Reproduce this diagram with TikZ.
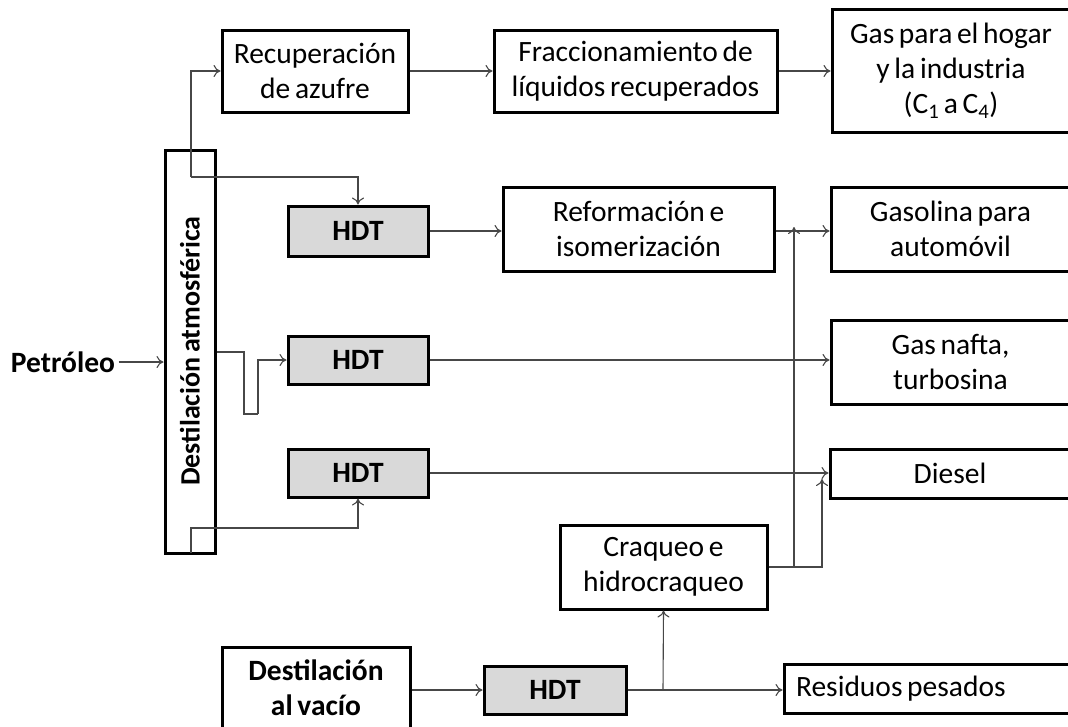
\documentclass[tikz,border=0pt]{standalone}
\usepackage{fontspec}
\setmainfont[WordSpace=0.7]{Carlito}
\usetikzlibrary{arrows.meta}
\begin{document}
\begin{tikzpicture}[x=1pt,y=-1pt,
  every node/.style={font=\fontsize{29.5}{35}\selectfont},
  box/.style={draw=black,line width=3pt,fill=white,align=center,inner sep=0pt},
  hdt/.style={box,fill=black!15,font=\fontsize{29.5}{35}\selectfont\bfseries,minimum width=140pt,minimum height=49pt},
  arr/.style={draw=black!72,line width=1.1pt,-{To[length=7pt,width=12pt]}},
  ln/.style={draw=black!72,line width=1.1pt}]
\useasboundingbox (0,0) rectangle (1068,726);
\begin{scope}
\clip (0,0) rectangle (1068,726);
% nodes
\node[box,minimum width=186pt,minimum height=82pt] (rec) at (315,71) {Recuperación\\de azufre};
\node[box,minimum width=283pt,minimum height=82pt] (frac) at (635.5,71) {Fraccionamiento de\\líquidos recuperados};
\node[box,minimum width=238pt,minimum height=123pt] (gas) at (951,70.5) {Gas para el hogar\\y la industria\\(C\textsubscript{1} a C\textsubscript{4})};
\node[box,minimum width=50pt,minimum height=403pt] (atm) at (190,351.5) {};
\node[rotate=90,font=\fontsize{28}{34}\selectfont\bfseries] (atmlbl) at (190,351) {Destilación atmosférica};
\node[hdt,minimum height=50pt] (hdt1) at (358,231) {HDT};
\node[box,minimum width=271pt,minimum height=84pt] (ref) at (638.5,229) {Reformación e\\isomerización};
\node[box,minimum width=239pt,minimum height=84pt] (gaso) at (950.5,229) {Gasolina para\\automóvil};
\node[hdt,minimum height=48pt] (hdt2) at (358,360) {HDT};
\node[box,minimum width=239pt,minimum height=84pt] (nafta) at (950.5,362) {Gas nafta,\\turbosina};
\node[hdt,minimum height=48pt] (hdt3) at (358,473) {HDT};
\node[box,minimum width=240pt,minimum height=49pt] (diesel) at (950,473.5) {Diesel};
\node[box,minimum width=207pt,minimum height=84pt] (craq) at (663.5,567) {Craqueo e\\hidrocraqueo};
\node[box,minimum width=188pt,minimum height=82pt,font=\fontsize{29.5}{35}\selectfont\bfseries] (vac) at (316,688) {Destilación\\al vacío};
\node[hdt,minimum width=142pt,minimum height=48pt] (hdt4) at (555,690) {HDT};
\node[box,minimum height=49pt,text width=274pt,inner xsep=12pt,align=left] (res) at (933,688.5) {\spaceskip=0pt Residuos pesados};
\node[font=\fontsize{29.5}{35}\selectfont\bfseries] (pet) at (63,362) {Petróleo};
% junction coordinates
\coordinate (j1) at (191,177);
\coordinate (j3) at (191,553);
\coordinate (k2a) at (244,352);
\coordinate (k2b) at (244,414);
\coordinate (k2c) at (258,414);
\coordinate (b4) at (663,690);
\coordinate (gtip) at (794,227);
\coordinate (dtip) at (822,479);
% connectors
\draw[arr] (pet.east) -- (atm.west |- pet.east);
\draw[arr] (j1) |- (rec.west);
\draw[arr] (j1) -| (hdt1.north);
\draw[ln] (atm.east |- k2a) -- (k2a) -- (k2b) -- (k2c);
\draw[arr] (k2c) |- (hdt2.west);
\draw[arr] (j3) |- (hdt3.south |- 0,528) -- (hdt3.south);
\draw[arr] (rec.east) -- (frac.west |- rec.east);
\draw[arr] (frac.east) -- (gas.west |- frac.east);
\draw[arr] (hdt1.east) -- (ref.west |- hdt1.east);
\draw[arr] (ref.east |- 0,231) -- (gaso.west |- 0,231);
\draw[arr] (hdt2.east) -- (nafta.west |- hdt2.east);
\draw[arr] (hdt3.east) -- (diesel.west |- hdt3.east);
\draw[arr] (craq.east) -| (gtip);
\draw[arr] (craq.east) -| (dtip);
\draw[arr] (vac.east |- hdt4.west) -- (hdt4.west);
\draw[arr] (hdt4.east) -- (res.west |- hdt4.east);
\draw[arr] (b4) -- (craq.south);
\end{scope}
\end{tikzpicture}
\end{document}
